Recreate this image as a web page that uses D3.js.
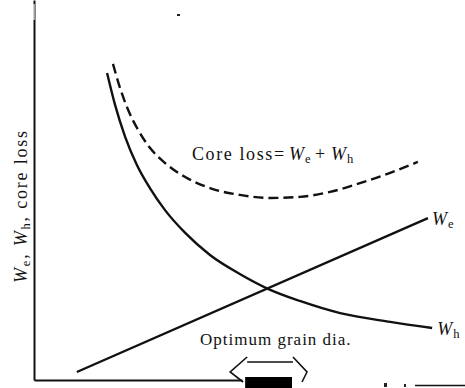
<!DOCTYPE html>
<html>
<head>
<meta charset="utf-8">
<script src="https://cdn.jsdelivr.net/npm/d3@7"></script>
<style>
  body { margin: 0; background: #fff; }
  text { font-family: "Liberation Serif", "DejaVu Serif", serif; fill: #111; }
</style>
</head>
<body>
<div class="loss_chart"></div>
<script>
// grain diameter (arbitrary units) vs loss (arbitrary units)
const whX = [1.74, 1.93, 2.17, 2.45, 2.76, 3.12, 3.60, 4.19, 4.90, 5.57, 6.33, 7.29, 8.48, 9.48];
const whY = [8.08, 7.24, 6.40, 5.66, 5.05, 4.47, 3.87, 3.29, 2.79, 2.40, 2.08, 1.76, 1.53, 1.37];

const weX = [1.02, 9.38];
const weY = [0.21, 4.26];

const coreX = [1.88, 2.05, 2.24, 2.48, 2.76, 3.12, 3.60, 4.19, 4.90, 5.62, 6.33, 7.05, 7.76, 8.48, 9.14];
const coreY = [8.32, 7.68, 7.11, 6.58, 6.11, 5.71, 5.34, 5.05, 4.87, 4.79, 4.82, 4.95, 5.18, 5.45, 5.74];

// optimum grain diameter range (arrow)
const optRange = [4.67, 6.50];

const svg = d3.select('.loss_chart').append('svg')
            .attr('width', 465)
            .attr('height', 388);

const xScale = d3.scaleLinear().domain([0, 10]).range([34, 454]);
const yScale = d3.scaleLinear().domain([0, 10]).range([380, 0]);

const line = d3.line()
            .x(d => xScale(d[0]))
            .y(d => yScale(d[1]))
            .curve(d3.curveMonotoneX);

const zip = (xs, ys) => xs.map((x, i) => [x, ys[i]]);

// axes (no ticks)
const yAxis = d3.axisLeft(yScale).tickValues([]).tickSizeOuter(0);
svg.append('g')
    .attr('transform', `translate(${xScale(0)},0)`)
    .call(yAxis)
    .select('.domain')
    .attr('stroke', '#111')
    .attr('stroke-width', 2);

const xAxis = d3.axisBottom(d3.scaleLinear().domain([0, 4.95]).range([xScale(0), xScale(4.95)]))
            .tickValues([]).tickSizeOuter(0);
svg.append('g')
    .attr('transform', `translate(0,${yScale(0)})`)
    .call(xAxis)
    .select('.domain')
    .attr('stroke', '#111')
    .attr('stroke-width', 2);

// faded top of the y axis
svg.append('line')
    .attr('x1', xScale(0)).attr('x2', xScale(0))
    .attr('y1', 4).attr('y2', 20)
    .attr('stroke', '#fff').attr('stroke-width', 1.2);

// curves
svg.append('path')
    .attr('d', line(zip(whX, whY)))
    .attr('fill', 'none')
    .attr('stroke', '#111')
    .attr('stroke-width', 2.4);

svg.append('path')
    .attr('d', line(zip(weX, weY)))
    .attr('fill', 'none')
    .attr('stroke', '#111')
    .attr('stroke-width', 2.4);

svg.append('path')
    .attr('d', line(zip(coreX, coreY)))
    .attr('fill', 'none')
    .attr('stroke', '#111')
    .attr('stroke-width', 2.4)
    .attr('stroke-dasharray', '10,5');

// labels
const wLabel = (g, x, y, sub, size) => {
    const t = g.append('text').attr('x', x).attr('y', y).attr('font-size', size);
    t.append('tspan').attr('font-style', 'italic').text('W');
    t.append('tspan').attr('font-size', size * 0.7).attr('dx', 1).attr('dy', 3).text(sub);
    return t;
};

wLabel(svg, xScale(9.38) + 4, yScale(4.26) + 7, 'e', 18);
wLabel(svg, xScale(9.48) + 5, yScale(1.37) + 7, 'h', 18);

// "Core loss = We + Wh"
const core = svg.append('g').attr('font-size', 18);
core.append('text').attr('x', 192).attr('y', 160).attr('letter-spacing', 1.6).text('Core loss');
core.append('text').attr('x', 274).attr('y', 160).text('=');
wLabel(core, 289, 160, 'e', 18);
core.append('text').attr('x', 315).attr('y', 160).text('+');
wLabel(core, 331, 160, 'h', 18);

svg.append('text')
    .attr('x', 200).attr('y', 345)
    .attr('font-size', 17)
    .attr('letter-spacing', 1)
    .text('Optimum grain dia.');

const yl = svg.append('text')
            .attr('transform', 'translate(27,283) rotate(-90)')
            .attr('font-size', 18)
            .attr('letter-spacing', 1.8);
yl.append('tspan').attr('font-style', 'italic').text('W');
yl.append('tspan').attr('font-size', 12.5).attr('dy', 3).text('e');
yl.append('tspan').attr('dy', -3).text(', ');
yl.append('tspan').attr('font-style', 'italic').text('W');
yl.append('tspan').attr('font-size', 12.5).attr('dy', 3).text('h');
yl.append('tspan').attr('dy', -3).text(', core loss');

// optimum range double arrow (hollow)
const a0 = xScale(optRange[0]), a1 = xScale(optRange[1]);
const arrTop = 362, arrBot = 382, arrMid = 372;
svg.append('path')
    .attr('d', `M${a0 + 17},${arrTop - 5} L${a0},${arrMid} L${a0 + 13},${arrBot} M${a0 + 17},${arrTop} L${a1 - 14},${arrTop}
                M${a1 - 14},${arrTop - 5} L${a1},${arrMid} L${a1 - 5},${arrBot}`)
    .attr('fill', 'none')
    .attr('stroke', '#111')
    .attr('stroke-width', 1.6);

svg.append('rect')
    .attr('x', a0 + 15).attr('y', 377)
    .attr('width', a1 - a0 - 30).attr('height', 11)
    .attr('fill', '#000');

// scan specks
svg.append('rect').attr('x', 177).attr('y', 14).attr('width', 3).attr('height', 2).attr('fill', '#222');
svg.append('rect').attr('x', 384).attr('y', 383).attr('width', 3).attr('height', 4).attr('fill', '#222');
svg.append('rect').attr('x', 404).attr('y', 384).attr('width', 2).attr('height', 3).attr('fill', '#222');
svg.append('line').attr('x1', 415).attr('x2', 465).attr('y1', 385.5).attr('y2', 385.5)
    .attr('stroke', '#111').attr('stroke-width', 1.6);
</script>
</body>
</html>
